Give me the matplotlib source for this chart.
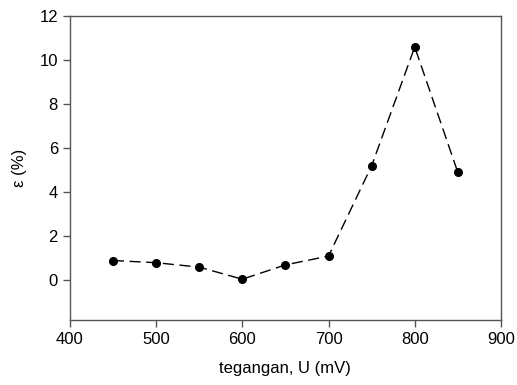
import matplotlib
matplotlib.use("Agg")
import matplotlib.pyplot as plt

# data
tegangan = [450, 500, 550, 600, 650, 700, 750, 800, 850]
epsilon = [0.9, 0.8, 0.6, 0.05, 0.7, 1.1, 5.2, 10.6, 4.9]

x_ticks = [400, 500, 600, 700, 800, 900]
y_ticks = [0, 2, 4, 6, 8, 10, 12]

plt.rcParams['font.family'] = ['Liberation Sans', 'DejaVu Sans']

fig = plt.figure(figsize=(5.17, 3.85), dpi=100)
ax = fig.add_axes([0.135, 0.169, 0.834, 0.789])

ax.plot(tegangan, epsilon, color='black', linestyle=(0, (8, 4)), linewidth=1.0,
        marker='o', markersize=5.5, markerfacecolor='black', markeredgecolor='black')

ax.set_xlim(400, 900)
ax.set_ylim(-1.8, 12)
ax.set_xticks(x_ticks)
ax.set_yticks(y_ticks)

for s in ax.spines.values():
    s.set_color('#555555')
    s.set_linewidth(1.0)
ax.tick_params(direction='out', length=5, width=1, color='#555555', labelsize=12)

ax.set_xlabel('tegangan, U (mV)', fontsize=12, labelpad=10)
ax.set_ylabel('ε (%)', fontsize=12, labelpad=9)

fig.savefig('out.png', dpi=100)
